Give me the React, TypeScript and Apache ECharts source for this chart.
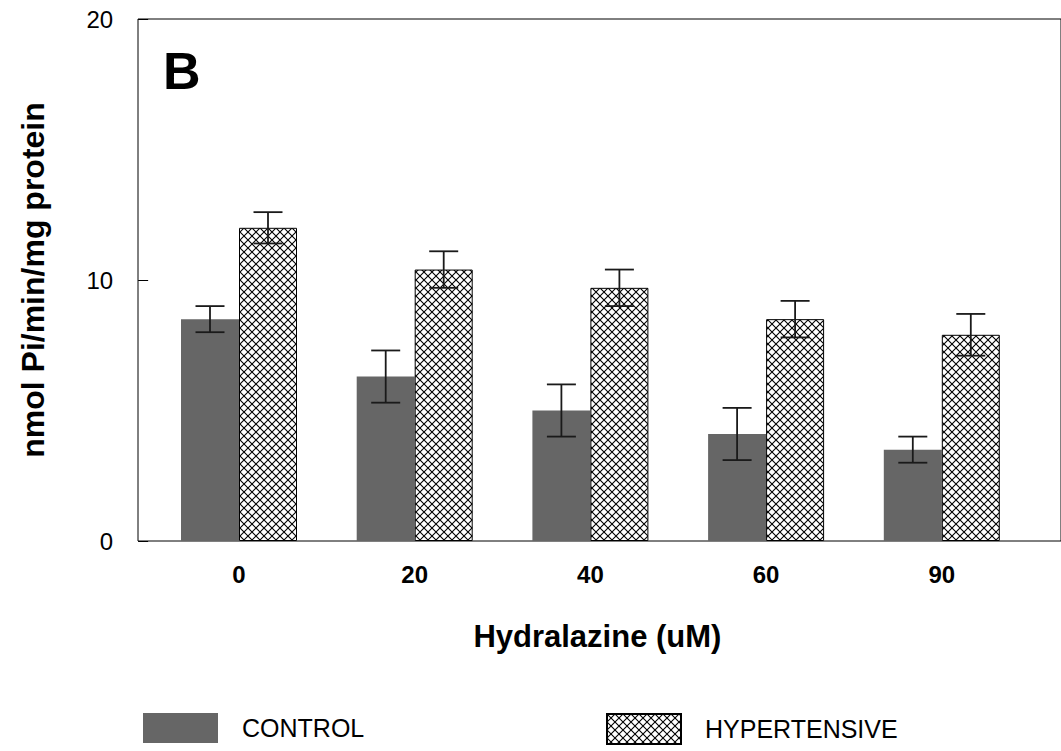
import React, { useEffect, useRef } from 'react';
import * as echarts from 'echarts';

const categories = ['0', '20', '40', '60', '90'];
const controlValues = [8.5, 6.3, 5.0, 4.1, 3.5];
const controlErrors = [0.5, 1.0, 1.0, 1.0, 0.5];
const hyperValues = [12.0, 10.4, 9.7, 8.5, 7.9];
const hyperErrors = [0.6, 0.7, 0.7, 0.7, 0.8];
const seriesNames = ['CONTROL', 'HYPERTENSIVE'];
const xTitle = 'Hydralazine (uM)';
const yTitle = 'nmol Pi/min/mg protein';
const panelLabel = 'B';

const FONT = '"Liberation Sans", Arial, sans-serif';
const BAR_W = 58;

function makeHatch(): HTMLCanvasElement {
  const c = document.createElement('canvas');
  const s = 8;
  c.width = s;
  c.height = s;
  const ctx = c.getContext('2d')!;
  ctx.fillStyle = '#ffffff';
  ctx.fillRect(0, 0, s, s);
  ctx.strokeStyle = '#000000';
  ctx.lineWidth = 1.1;
  ctx.beginPath();
  ctx.moveTo(-1, -1);
  ctx.lineTo(s + 1, s + 1);
  ctx.moveTo(s + 1, -1);
  ctx.lineTo(-1, s + 1);
  ctx.stroke();
  return c;
}

function errorSeries(vals: number[], errs: number[], offset: number) {
  return {
    type: 'custom',
    xAxisIndex: 0,
    yAxisIndex: 0,
    silent: true,
    z: 10,
    data: vals.map((v, i) => [i, v - errs[i], v + errs[i]]),
    encode: { x: 0, y: [1, 2] },
    renderItem: (params: any, api: any) => {
      const i = api.value(0);
      const lo = api.coord([i, api.value(1)]);
      const hi = api.coord([i, api.value(2)]);
      const x = lo[0] + offset;
      const hw = 14.5;
      const style = { stroke: '#1a1a1a', lineWidth: 1.8 };
      return {
        type: 'group',
        children: [
          { type: 'line', shape: { x1: x, y1: hi[1], x2: x, y2: lo[1] }, style },
          { type: 'line', shape: { x1: x - hw, y1: hi[1], x2: x + hw, y2: hi[1] }, style },
          { type: 'line', shape: { x1: x - hw, y1: lo[1], x2: x + hw, y2: lo[1] }, style },
        ],
      };
    },
  };
}

export default function App() {
  const ref = useRef<HTMLDivElement>(null);
  useEffect(() => {
    if (!ref.current) return;
    const chart = echarts.init(ref.current, null, { renderer: 'svg' });
    const hatch = { image: makeHatch(), repeat: 'repeat' };
    const legendText = {
      fontSize: 25,
      fontFamily: FONT,
      color: '#000',
      padding: [10, 0, 0, 19],
    };
    chart.setOption({
      animation: false,
      backgroundColor: '#ffffff',
      textStyle: { fontFamily: FONT },
      grid: [
        { left: 151.15, top: 19, width: 878.5, height: 522, containLabel: false },
        {
          left: 138,
          top: 19,
          height: 522,
          width: 1000,
          show: true,
          borderColor: '#000',
          borderWidth: 1,
          backgroundColor: 'transparent',
        },
      ],
      xAxis: [
        {
          type: 'category',
          gridIndex: 0,
          data: categories,
          axisLine: { show: false },
          axisTick: { show: false },
          axisLabel: {
            margin: 21,
            fontSize: 24,
            fontWeight: 'bold',
            color: '#000',
            fontFamily: FONT,
          },
          name: xTitle,
          nameLocation: 'middle',
          nameGap: 80,
          nameTextStyle: {
            fontSize: 31,
            fontWeight: 'bold',
            color: '#000',
            fontFamily: FONT,
            padding: [0, 0, 0, 14],
          },
        },
        { type: 'value', gridIndex: 1, show: false },
      ],
      yAxis: [
        {
          type: 'value',
          gridIndex: 0,
          min: 0,
          max: 20,
          interval: 10,
          offset: 13,
          axisLine: { show: false },
          axisTick: { show: true, inside: true, length: 10, lineStyle: { color: '#000', width: 1 } },
          splitLine: { show: false },
          axisLabel: {
            margin: 25,
            fontSize: 24,
            color: '#000',
            fontFamily: FONT,
          },
          name: yTitle,
          nameLocation: 'middle',
          nameGap: 89,
          nameTextStyle: {
            fontSize: 32,
            fontWeight: 'bold',
            color: '#000',
            fontFamily: FONT,
          },
        },
        { type: 'value', gridIndex: 1, show: false },
      ],
      legend: [
        {
          data: [seriesNames[0]],
          left: 143,
          top: 713,
          padding: 0,
          itemWidth: 75,
          itemHeight: 30,
          icon: 'rect',
          selectedMode: false,
          textStyle: legendText,
        },
        {
          data: [seriesNames[1]],
          left: 606,
          top: 713,
          padding: 0,
          itemWidth: 74,
          itemHeight: 30,
          icon: 'rect',
          selectedMode: false,
          textStyle: legendText,
        },
      ],
      graphic: [
        {
          type: 'text',
          x: 163,
          y: 45,
          style: {
            text: panelLabel,
            fontSize: 52,
            fontWeight: 'bold',
            fontFamily: FONT,
            fill: '#000',
            verticalAlign: 'top',
          },
        },
      ],
      series: [
        {
          name: seriesNames[0],
          type: 'bar',
          xAxisIndex: 0,
          yAxisIndex: 0,
          data: controlValues,
          barWidth: BAR_W,
          barGap: '0%',
          itemStyle: { color: '#666666' },
        },
        {
          name: seriesNames[1],
          type: 'bar',
          xAxisIndex: 0,
          yAxisIndex: 0,
          data: hyperValues,
          barWidth: BAR_W,
          barGap: '0%',
          itemStyle: { color: hatch, borderColor: '#000', borderWidth: 1 },
        },
        errorSeries(controlValues, controlErrors, -BAR_W / 2),
        errorSeries(hyperValues, hyperErrors, BAR_W / 2),
      ],
    });
    return () => chart.dispose();
  }, []);
  return (
    <div
      ref={ref}
      style={{ position: 'fixed', left: 0, top: 0, width: 1061, height: 751 }}
    />
  );
}
